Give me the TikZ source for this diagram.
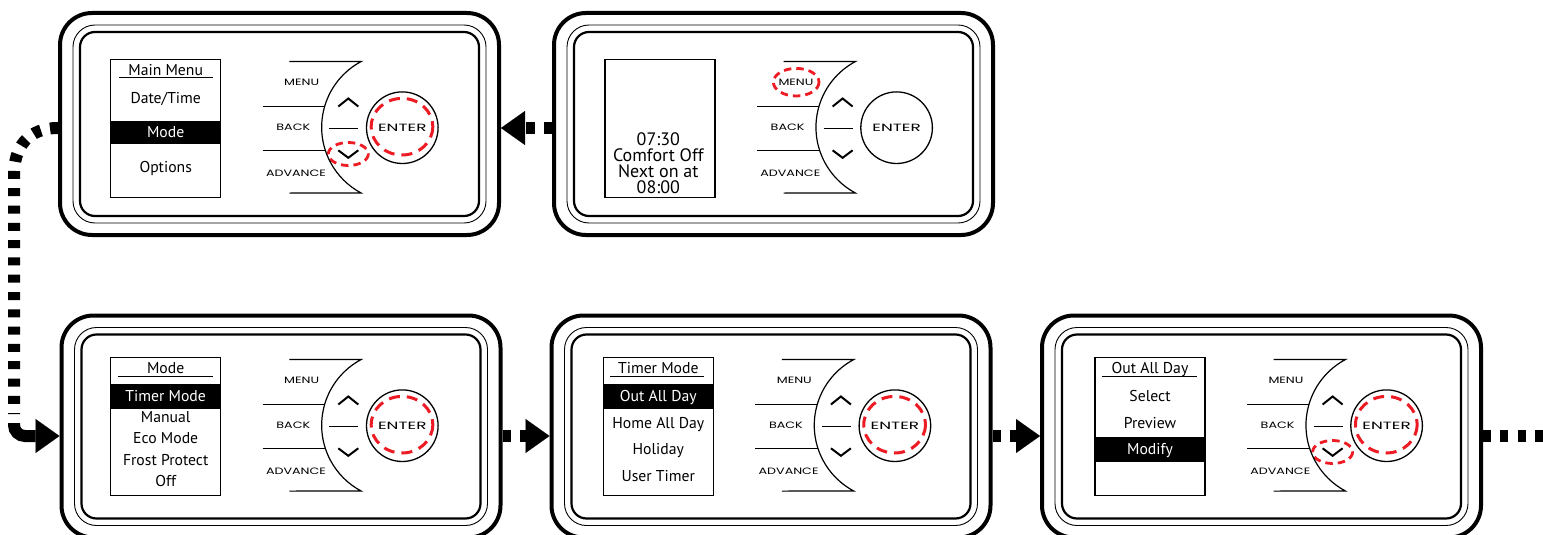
\documentclass[tikz,border=0pt]{standalone}
\usepackage{fontspec}
\usetikzlibrary{arrows.meta}
\newfontfamily\scrfont{PT Sans}
\newfontfamily\btnfont{Poppins}
\definecolor{ringred}{RGB}{237,28,36}
\newcommand\btnlabel[1]{\scalebox{1.38}[1]{#1}}
\newcommand\enterlabel[1]{\scalebox{1.6}[1]{#1}}
\tikzset{
  frameouter/.style={draw, line width=4pt, rounded corners=32pt, minimum width=439pt, minimum height=222pt, inner sep=0pt},
  framethin/.style={line width=0.9pt, rounded corners=22pt},
  framemid/.style={line width=2.2pt, rounded corners=15pt},
  btnline/.style={line width=1.2pt},
  chev/.style={line width=2pt},
  screenbox/.style={line width=1.4pt},
  enterbtn/.style={circle, draw, line width=1.3pt, minimum size=71.6pt, inner sep=0pt},
  btnlab/.style={font=\btnfont\fontsize{9.2}{10}\selectfont, inner sep=0pt},
  enterlab/.style={font=\btnfont\fontsize{10.5}{11}\selectfont, inner sep=0pt},
  item/.style={font=\scrfont\fontsize{15.7}{16}\selectfont, inner sep=0pt, text height=11pt, text depth=0pt},
  hi/.style={item, text=white},
  big/.style={font=\scrfont\fontsize{18}{18}\selectfont, inner sep=0pt, text height=12.6pt, text depth=0pt},
  uline/.style={line width=1pt},
  redring/.style={draw=ringred, line width=3pt, dash pattern=on 11pt off 7pt},
  redsmall/.style={draw=ringred, line width=2.8pt, dash pattern=on 7.5pt off 5pt},
  conn/.style={line width=12pt, dash pattern=on 8.5pt off 9pt, -{Triangle[length=24pt,width=34pt,line width=0.1pt]}},
  connplain/.style={line width=12pt, dash pattern=on 8pt off 9.3pt},
  connsolid/.style={line width=12pt, -{Triangle[length=24pt,width=34pt,line width=0.1pt]}},
}
% #1 name, #2 frame left, #3 frame top, #4 screen left, #5 screen top, #6 screen content
\newcommand\drawpanel[6]{%
  \node[frameouter] (#1) at ({#2+219.5},{#3+111}) {};
  \draw[framethin] ({#2+13},{#3+12}) rectangle ({#2+426},{#3+210});
  \draw[framemid] ({#2+20},{#3+19}) rectangle ({#2+419},{#3+203});
  \begin{scope}[shift={(#4,#5)}]
    #6
    \draw[screenbox] (0,0) rectangle (110,138.3);
    \draw[btnline] (178.6,2.2) -- (250.5,2.2) arc[start angle=242, end angle=118, radius=74.5] -- (178.6,133.8);
    \draw[btnline] (152,47.4) -- (213.9,47.4);
    \draw[btnline] (152,91.4) -- (214.8,91.4);
    \draw[btnline] (218.6,69) -- (247.6,69);
    \draw[chev] (227.6,47.2) -- (237.6,39.2) -- (247.6,47.2);
    \draw[chev] (227.6,91) -- (237.6,98.5) -- (247.6,91);
    \node[enterbtn] (#1enter) at (291.6,68.4) {};
    \node[enterlab] (#1entert) at (291.6,69) {\enterlabel{ENTER}};
    \node[btnlab] (#1menu) at (191,23.4) {\btnlabel{MENU}};
    \node[btnlab] (#1back) at (182.6,68) {\btnlabel{BACK}};
    \node[btnlab] (#1adv) at (185.3,113.7) {\btnlabel{ADVANCE}};
  \end{scope}}
\begin{document}
\begin{tikzpicture}[x=1pt, y=-1pt]
\useasboundingbox (0,0) rectangle (1543,535);
\clip (0,0) rectangle (1543,535);
\fill[white] (0,0) rectangle (1543,535);

\drawpanel{p1}{60}{13}{110.7}{59.3}{%
  \fill (0,61.4) rectangle (110,85);
  \node[item] (p1t) at (55,10.7) {Main Menu};
  \draw[uline] (8.3,18.4) -- (102.3,18.4);
  \node[item] (p1a) at (55,38.4) {Date/Time};
  \node[hi] (p1b) at (55,72.7) {Mode};
  \node[item] (p1c) at (55,107.4) {Options};
  \draw[redring] (291.3,67.4) ellipse[x radius=30.8, y radius=28.3];
  \draw[redsmall] (237.6,94.7) ellipse[x radius=20, y radius=11.5];
}

\drawpanel{p2}{554}{13}{605}{59.3}{%
  \node[big] (p2a) at (53.3,80) {07:30};
  \node[big] (p2b) at (53.3,95.7) {Comfort Off};
  \node[big] (p2c) at (53.3,111.7) {Next on at};
  \node[big] (p2d) at (53.3,127.4) {08:00};
  \draw[redsmall] (191.2,22.9) ellipse[x radius=22.8, y radius=13.8];
}

\drawpanel{p3}{61.5}{315.5}{110.7}{357.3}{%
  \fill (0,26.7) rectangle (110,51.4);
  \node[item] (p3t) at (55,11) {Mode};
  \draw[uline] (7.3,19.4) -- (102,19.4);
  \node[hi] (p3a) at (55,38.7) {Timer Mode};
  \node[item] (p3b) at (55,60) {Manual};
  \node[item] (p3c) at (55,81) {Eco Mode};
  \node[item] (p3d) at (55,102.7) {Frost Protect};
  \node[item] (p3e) at (55,123.7) {Off};
  \draw[redring] (291.3,67.4) ellipse[x radius=30.8, y radius=28.3];
}

\drawpanel{p4}{551.5}{315.5}{603.3}{357.3}{%
  \fill (0,26.7) rectangle (110,51.4);
  \node[item] (p4t) at (55,11) {Timer Mode};
  \draw[uline] (6.5,19.2) -- (101,19.2);
  \node[hi] (p4a) at (55,38.7) {Out All Day};
  \node[item] (p4b) at (55,65.7) {Home All Day};
  \node[item] (p4c) at (55,91.7) {Holiday};
  \node[item] (p4d) at (55,118.4) {User Timer};
  \draw[redring] (291.3,67.4) ellipse[x radius=30.8, y radius=28.3];
}

\drawpanel{p5}{1042}{315.5}{1095}{357.3}{%
  \fill (0,80) rectangle (110,104.7);
  \node[item] (p5t) at (55,11) {Out All Day};
  \draw[uline] (7,19.2) -- (102,19.2);
  \node[item] (p5a) at (55,38.7) {Select};
  \node[item] (p5b) at (55,65.4) {Preview};
  \node[hi] (p5c) at (55,91.4) {Modify};
  \draw[redring] (291.3,67.4) ellipse[x radius=30.8, y radius=28.3];
  \draw[redsmall] (237.6,94.7) ellipse[x radius=20, y radius=11.5];
}

% connectors
\draw[conn] ([yshift=-4pt]p2.west) -- ([yshift=-4pt]p1.east);
\draw[conn] ([yshift=-9.5pt]p3.east) -- ([yshift=-9.5pt]p4.west);
\draw[conn] ([yshift=-9.5pt]p4.east) -- ([yshift=-9.5pt]p5.west);
\coordinate (exit) at (1543,436);
\draw[connplain] ([yshift=-9.5pt]p5.east) -- (exit);
\coordinate (bend) at (14,175);
\coordinate (down) at (14,414);
\coordinate (corner) at (14,423);
\draw[connplain] ([yshift=-4pt]p1.west) .. controls +(-30,0) and +(0,-28) .. (bend) -- (down);
\draw[connsolid, rounded corners=11pt] (corner) |- ([yshift=-9.5pt]p3.west);
\end{tikzpicture}
\end{document}
